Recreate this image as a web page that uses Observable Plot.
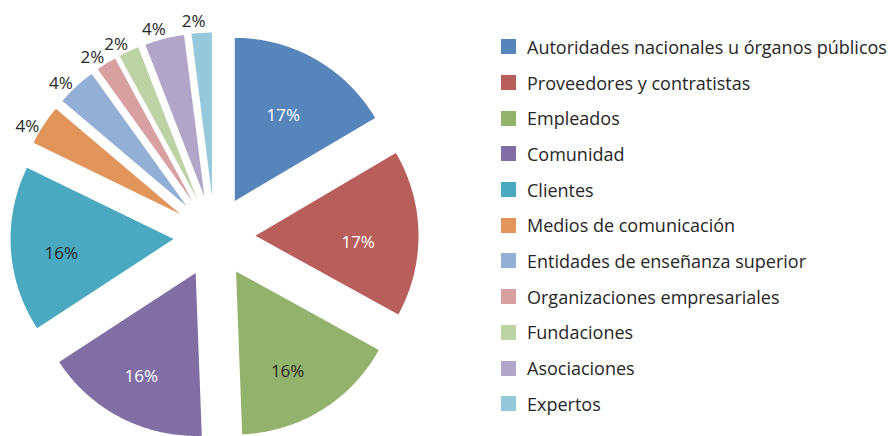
<!DOCTYPE html>
<html><head><meta charset="utf-8">
<script src="https://cdn.jsdelivr.net/npm/d3@7"></script>
<script src="https://cdn.jsdelivr.net/npm/@observablehq/plot@0.6"></script>
<style>
body{margin:0;background:#fff;font-family:"Open Sans",sans-serif;}
#wrap{position:relative;width:893px;height:436px;overflow:hidden}
#legend{position:absolute;left:501px;top:29px;}
.row{display:flex;align-items:center;height:35.7px}
.sw{width:15px;height:15px;margin-right:11px;flex:none}
.lab{font-size:18px;color:#262626;white-space:nowrap}
</style></head><body><div id="wrap"><div id="chart"></div><div id="legend"></div></div>
<script>
const categories = [
  "Autoridades nacionales u órganos públicos",
  "Proveedores y contratistas",
  "Empleados",
  "Comunidad",
  "Clientes",
  "Medios de comunicación",
  "Entidades de enseñanza superior",
  "Organizaciones empresariales",
  "Fundaciones",
  "Asociaciones",
  "Expertos"
];
const shares = [16.5, 16.5, 16.4, 16.4, 16.4, 4.0, 3.9, 2.0, 2.0, 3.9, 2.0];
const colors = ["#5585BB", "#B85F5C", "#93B36C", "#816EA5", "#4AA9C1", "#E2955A",
                "#93AFD6", "#D9A0A1", "#BDD3A5", "#AFA6CA", "#95C8DB"];

// layout (pixels)
const W = 893, H = 436, CX = 214, CY = 236, R = 163, EXPLODE = 41;

const total = d3.sum(shares);
const polys = [];
const labels = [];
let acc = 0;
const whiteLabels = new Set([0, 1, 3]);
shares.forEach((v, i) => {
  const a0 = acc / total * 2 * Math.PI;
  acc += v;
  const a1 = acc / total * 2 * Math.PI;
  const am = (a0 + a1) / 2;
  const e = EXPLODE / R;
  const ox = e * Math.sin(am), oy = e * Math.cos(am);
  const name = categories[i];
  polys.push({name, x: ox, y: oy});
  const n = Math.max(4, Math.ceil((a1 - a0) / (Math.PI / 180)));
  for (let k = 0; k <= n; k++) {
    const a = a0 + (a1 - a0) * k / n;
    polys.push({name, x: ox + Math.sin(a), y: oy + Math.cos(a)});
  }
  const big = v > 10;
  const r = big ? 0.66 : 1 + 15 / R;
  const la = big ? am : am - 0.04;
  labels.push({
    name,
    text: Math.round(v) + "%",
    x: ox + r * Math.sin(la) - (big ? 0.03 : 0),
    y: oy + r * Math.cos(la) - (big ? 0.05 : 0.02),
    color: big && whiteLabels.has(i) ? "white" : "#262626"
  });
});

const chart = Plot.plot({
  width: W, height: H,
  margin: 0,
  x: {domain: [-CX / R, (W - CX) / R], axis: null},
  y: {domain: [-(H - CY) / R, CY / R], axis: null},
  color: {domain: categories, range: colors},
  style: {fontFamily: "'Open Sans', sans-serif", background: "white"},
  marks: [
    Plot.line(polys, {x: "x", y: "y", z: "name", fill: "name", stroke: "none", curve: "linear-closed"}),
    Plot.text(labels, {x: "x", y: "y", text: "text", fill: "color", fontSize: 17})
  ]
});
document.getElementById("chart").appendChild(chart);

const leg = document.getElementById("legend");
categories.forEach((c, i) => {
  const row = document.createElement("div");
  row.className = "row";
  row.innerHTML = `<div class="sw" style="background:${colors[i]}"></div><div class="lab">${c}</div>`;
  leg.appendChild(row);
});
</script>
</body></html>
